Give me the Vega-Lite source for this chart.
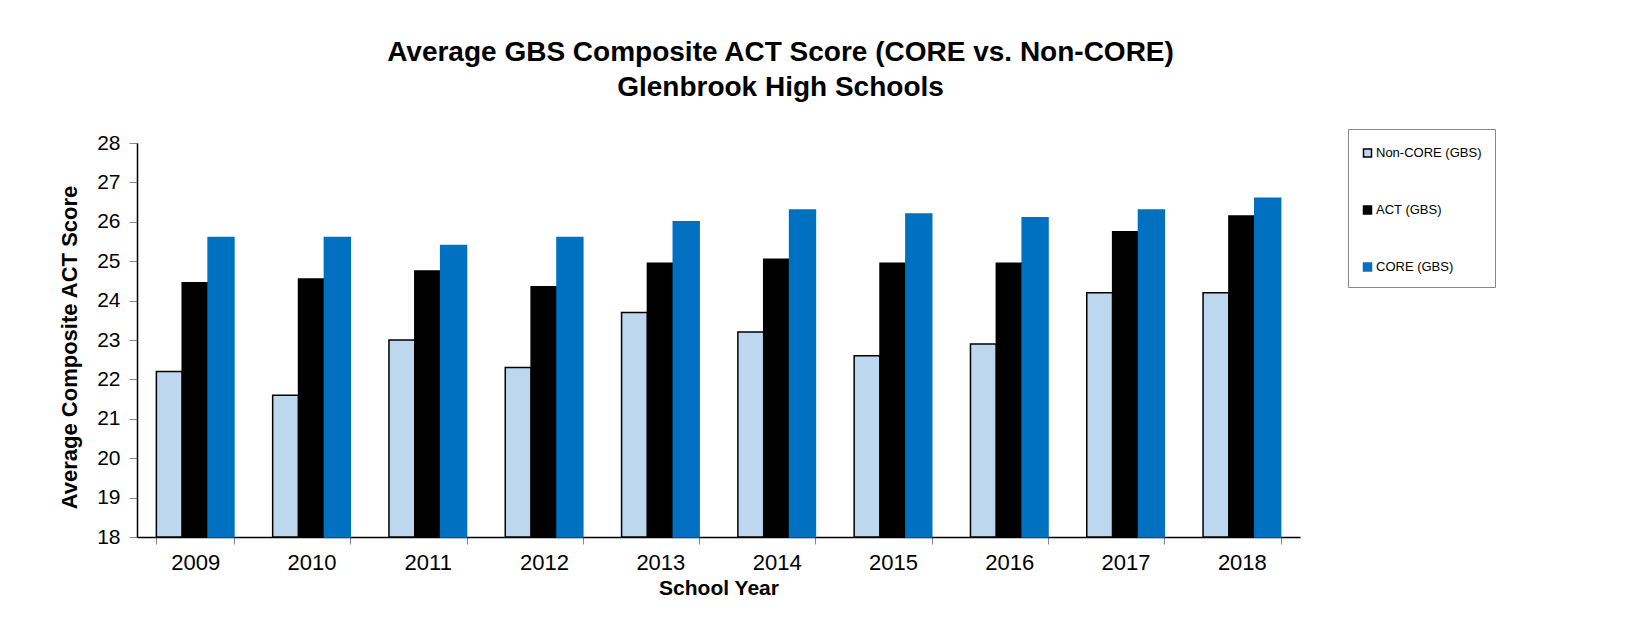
{
  "$schema": "https://vega.github.io/schema/vega-lite/v6.json",
  "autosize": "none",
  "width": 1163,
  "height": 394,
  "padding": {"left": 137, "top": 143, "right": 330, "bottom": 82},
  "background": "white",
  "config": {
    "font": "Liberation Sans",
    "view": {"stroke": null}
  },
  "title": {
    "text": ["Average GBS Composite ACT Score (CORE vs. Non-CORE)", "Glenbrook High Schools"],
    "fontSize": 28,
    "fontWeight": "bold",
    "font": "Liberation Sans",
    "color": "black",
    "lineHeight": 35,
    "anchor": "middle",
    "dx": 62,
    "offset": 27
  },
  "data": {
    "values": [
      {"year": "2009", "series": "Non-CORE (GBS)", "score": 22.2},
      {"year": "2009", "series": "ACT (GBS)", "score": 24.45},
      {"year": "2009", "series": "CORE (GBS)", "score": 25.6},
      {"year": "2010", "series": "Non-CORE (GBS)", "score": 21.6},
      {"year": "2010", "series": "ACT (GBS)", "score": 24.55},
      {"year": "2010", "series": "CORE (GBS)", "score": 25.6},
      {"year": "2011", "series": "Non-CORE (GBS)", "score": 23.0},
      {"year": "2011", "series": "ACT (GBS)", "score": 24.75},
      {"year": "2011", "series": "CORE (GBS)", "score": 25.4},
      {"year": "2012", "series": "Non-CORE (GBS)", "score": 22.3},
      {"year": "2012", "series": "ACT (GBS)", "score": 24.35},
      {"year": "2012", "series": "CORE (GBS)", "score": 25.6},
      {"year": "2013", "series": "Non-CORE (GBS)", "score": 23.7},
      {"year": "2013", "series": "ACT (GBS)", "score": 24.95},
      {"year": "2013", "series": "CORE (GBS)", "score": 26.0},
      {"year": "2014", "series": "Non-CORE (GBS)", "score": 23.2},
      {"year": "2014", "series": "ACT (GBS)", "score": 25.05},
      {"year": "2014", "series": "CORE (GBS)", "score": 26.3},
      {"year": "2015", "series": "Non-CORE (GBS)", "score": 22.6},
      {"year": "2015", "series": "ACT (GBS)", "score": 24.95},
      {"year": "2015", "series": "CORE (GBS)", "score": 26.2},
      {"year": "2016", "series": "Non-CORE (GBS)", "score": 22.9},
      {"year": "2016", "series": "ACT (GBS)", "score": 24.95},
      {"year": "2016", "series": "CORE (GBS)", "score": 26.1},
      {"year": "2017", "series": "Non-CORE (GBS)", "score": 24.2},
      {"year": "2017", "series": "ACT (GBS)", "score": 25.75},
      {"year": "2017", "series": "CORE (GBS)", "score": 26.3},
      {"year": "2018", "series": "Non-CORE (GBS)", "score": 24.2},
      {"year": "2018", "series": "ACT (GBS)", "score": 26.15},
      {"year": "2018", "series": "CORE (GBS)", "score": 26.6}
    ]
  },
  "mark": {"type": "bar", "strokeWidth": 1.5},
  "encoding": {
    "x": {
      "field": "year",
      "type": "nominal",
      "sort": null,
      "scale": {"paddingInner": 0.333, "paddingOuter": 0.1665},
      "axis": {
        "title": "School Year",
        "labelAngle": 0,
        "labelFontSize": 22,
        "labelColor": "black",
        "labelPadding": 8,
        "titleFontSize": 21,
        "titleFontWeight": "bold",
        "titleColor": "black",
        "titlePadding": 4,
        "domainColor": "black",
        "domainWidth": 1.5,
        "tickColor": "#888888",
        "tickSize": 7,
        "tickWidth": 1,
        "tickBand": "extent"
      }
    },
    "xOffset": {
      "field": "series",
      "type": "nominal",
      "sort": ["Non-CORE (GBS)", "ACT (GBS)", "CORE (GBS)"],
      "scale": {"paddingInner": 0, "paddingOuter": 0}
    },
    "y": {
      "field": "score",
      "type": "quantitative",
      "scale": {"domain": [18, 28], "zero": false, "nice": false},
      "axis": {
        "title": "Average Composite ACT Score",
        "values": [18, 19, 20, 21, 22, 23, 24, 25, 26, 27, 28],
        "grid": false,
        "labelFontSize": 21,
        "labelColor": "black",
        "labelPadding": 9,
        "titleFontSize": 22,
        "titleFontWeight": "bold",
        "titleColor": "black",
        "titlePadding": 15,
        "titleY": 204,
        "domainColor": "black",
        "domainWidth": 1.5,
        "tickColor": "#888888",
        "tickSize": 8,
        "tickWidth": 1
      }
    },
    "y2": {"datum": 18},
    "fill": {
      "field": "series",
      "type": "nominal",
      "sort": ["Non-CORE (GBS)", "ACT (GBS)", "CORE (GBS)"],
      "scale": {
        "domain": ["Non-CORE (GBS)", "ACT (GBS)", "CORE (GBS)"],
        "range": ["#BDD7EE", "#000000", "#0070C0"]
      },
      "legend": {
        "title": " ",
        "titleFontSize": 4,
        "titlePadding": 0.5,
        "orient": "none",
        "legendX": 1211,
        "legendY": -14,
        "direction": "vertical",
        "symbolType": "square",
        "symbolSize": 64,
        "symbolStrokeWidth": 1.5,
        "labelFontSize": 13,
        "labelColor": "black",
        "labelOffset": 2,
        "rowPadding": 42,
        "padding": 13,
        "strokeColor": "#888888",
        "fillColor": "white"
      }
    },
    "stroke": {
      "field": "series",
      "type": "nominal",
      "sort": ["Non-CORE (GBS)", "ACT (GBS)", "CORE (GBS)"],
      "scale": {
        "domain": ["Non-CORE (GBS)", "ACT (GBS)", "CORE (GBS)"],
        "range": ["#000000", "#000000", "#0070C0"]
      },
      "legend": null
    }
  }
}
